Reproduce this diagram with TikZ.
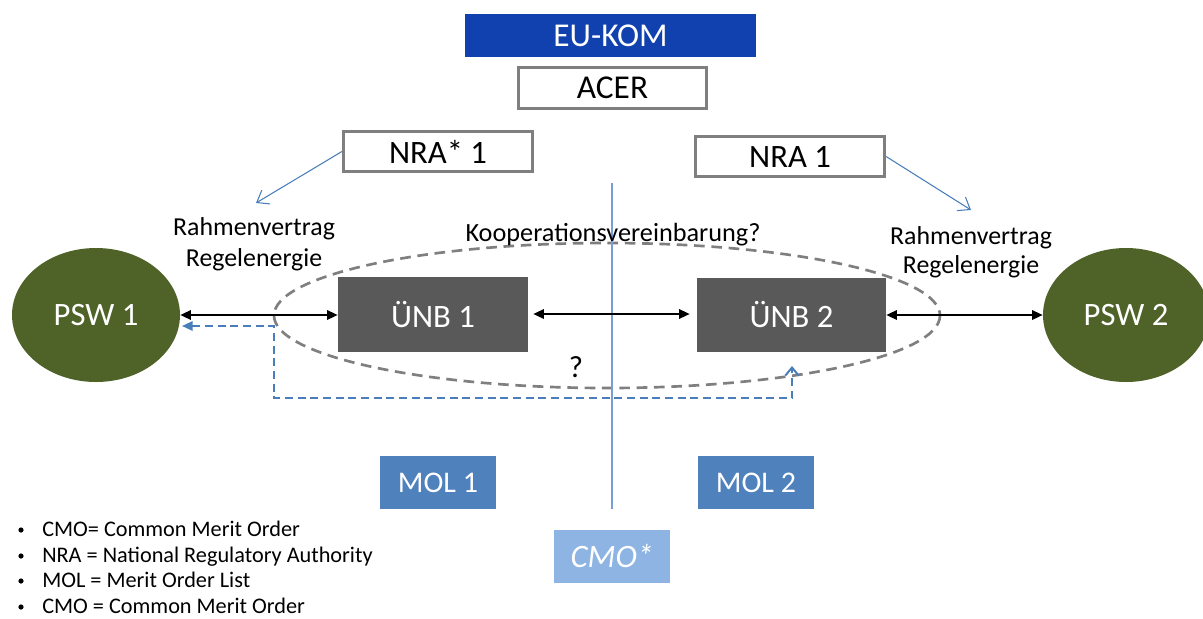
\documentclass[tikz,border=0pt]{standalone}
\usepackage{fontspec}
\setmainfont{Carlito}
\usetikzlibrary{arrows.meta,shapes.geometric,calc}
\definecolor{eublue}{RGB}{17,65,175}
\definecolor{bordergray}{RGB}{127,127,127}
\definecolor{unbgray}{RGB}{89,89,89}
\definecolor{olive}{RGB}{79,98,40}
\definecolor{molblue}{RGB}{79,129,189}
\definecolor{cmoblue}{RGB}{142,180,227}
\definecolor{lineblue}{RGB}{74,126,187}
\definecolor{vlblue}{RGB}{120,158,212}
\tikzset{
  box/.style={rectangle,inner sep=0pt,align=center},
  whitebox/.style={box,draw=bordergray,line width=2.4pt,fill=white,font=\fontsize{25pt}{28pt}\selectfont},
  darkbox/.style={box,fill=unbgray,text=white,font=\fontsize{24.5pt}{28pt}\selectfont},
  molbox/.style={box,fill=molblue,text=white,font=\fontsize{22.5pt}{26pt}\selectfont},
  pswnode/.style={ellipse,inner sep=0pt,fill=olive,text=white,font=\fontsize{24.5pt}{28pt}\selectfont},
  dbl/.style={line width=1.6pt,{Triangle[length=8pt,width=7pt]}-{Triangle[length=8pt,width=7pt]}},
  nraarrow/.style={draw=lineblue,line width=0.8pt,-{Straight Barb[length=8pt,width=12pt]}},
  bluedash/.style={draw=lineblue,line width=1.5pt,dash pattern=on 6pt off 3.5pt},
  graydash/.style={draw=bordergray,line width=2pt,dash pattern=on 8pt off 5pt},
  lbl/.style={font=\fontsize{19.4pt}{22pt}\selectfont,inner sep=0pt},
  bul/.style={font=\fontsize{16.7pt}{18pt}\selectfont,inner sep=0pt,anchor=base west}
}
\begin{document}
\begin{tikzpicture}[x=0.75pt,y=-0.75pt]
\useasboundingbox (0,0) rectangle (1203,618);

% gray dashed ellipse (behind everything)
\draw[graydash] (607,315.5) ellipse [x radius=333, y radius=72.5];

% vertical divider
\coordinate (vtop) at (612,183);
\coordinate (vbot) at (612,509);
\draw[vlblue,line width=1.2pt] (vtop) -- (vbot);

% top boxes
\node[box,fill=eublue,text=white,font=\fontsize{25pt}{28pt}\selectfont,
      minimum width=291*0.75pt,minimum height=43*0.75pt] (eu) at (610.5,35.5) {EU-KOM};
\node[whitebox,minimum width=188*0.75pt,minimum height=41*0.75pt] (acer) at (612.5,88) {ACER};
\node[whitebox,font=\fontsize{24.5pt}{28pt}\selectfont,minimum width=189*0.75pt,minimum height=40*0.75pt] (nras) at (438,151.5) {NRA* 1};
\node[whitebox,font=\fontsize{24.5pt}{28pt}\selectfont,minimum width=189*0.75pt,minimum height=40*0.75pt] (nra) at (790,156.5) {NRA 1};

% main nodes
\node[pswnode,minimum width=168*0.75pt,minimum height=134*0.75pt] (psw1) at (96,315) {PSW 1};
\node[pswnode,minimum width=166*0.75pt,minimum height=134*0.75pt] (psw2) at (1126,315) {PSW 2};
\node[darkbox,minimum width=190*0.75pt,minimum height=75*0.75pt] (unb1) at (433,314.5) {ÜNB 1};
\node[darkbox,minimum width=189*0.75pt,minimum height=74*0.75pt] (unb2) at (791.5,315) {ÜNB 2};

% MOL / CMO
\node[molbox,minimum width=116*0.75pt,minimum height=53*0.75pt] (mol1) at (438,482.5) {MOL 1};
\node[molbox,minimum width=116*0.75pt,minimum height=53*0.75pt] (mol2) at (756,482.5) {MOL 2};
\node[box,fill=cmoblue,text=white,font=\fontsize{24.5pt}{28pt}\selectfont\itshape,
      minimum width=116*0.75pt,minimum height=53*0.75pt] (cmo) at (612,556.5) {CMO*};

% labels
\node[lbl,anchor=base] (rv1) at (254,235) {Rahmenvertrag};
\node[lbl,anchor=base] (re1) at (254,266) {Regelenergie};
\node[lbl,anchor=base] (rv2) at (971,244) {Rahmenvertrag};
\node[lbl,anchor=base] (re2) at (971,273) {Regelenergie};
\node[lbl,anchor=base,font=\fontsize{19.7pt}{22pt}\selectfont] (koop) at (613,241) {Kooperationsvereinbarung?};
\node[lbl,anchor=base,font=\fontsize{23pt}{26pt}\selectfont] (q) at (576,377) {?};

% NRA arrows
\coordinate (ra1) at (256,203);
\coordinate (ra2) at (971,210);
\draw[nraarrow] (nras.west) -- (ra1);
\draw[nraarrow] (nra.east) -- (ra2);

% black double arrows
\draw[dbl] (psw1.east) -- (psw1.east -| unb1.west);
\draw[dbl,shorten <=5*0.75pt,shorten >=7*0.75pt] (unb1.east |- 0,314) -- (unb2.west |- 0,314);
\draw[dbl] (unb2.east |- psw2.west) -- (psw2.west);

% blue dashed return path
\coordinate (c1) at (792,366);
\coordinate (c2) at (792,398);
\coordinate (c3) at (274,398);
\coordinate (c4) at (274,326);
\coordinate (pe) at (182,326);
\draw[bluedash,{Triangle[length=8pt,width=7pt]}-{Straight Barb[length=6pt,width=10pt]}]
  (pe) -- (c4) -- (c3) -- (c2) -- (c1);

% legend
\foreach \i/\t [count=\n] in {536/{CMO= Common Merit Order},562/{NRA = National Regulatory Authority},587/{MOL = Merit Order List},613/{CMO = Common Merit Order}}{
  \fill (21,\i-6) circle [radius=2.6*0.75pt];
  \node[bul] (t\n) at (42,\i) {\t};
}
\end{tikzpicture}
\end{document}
